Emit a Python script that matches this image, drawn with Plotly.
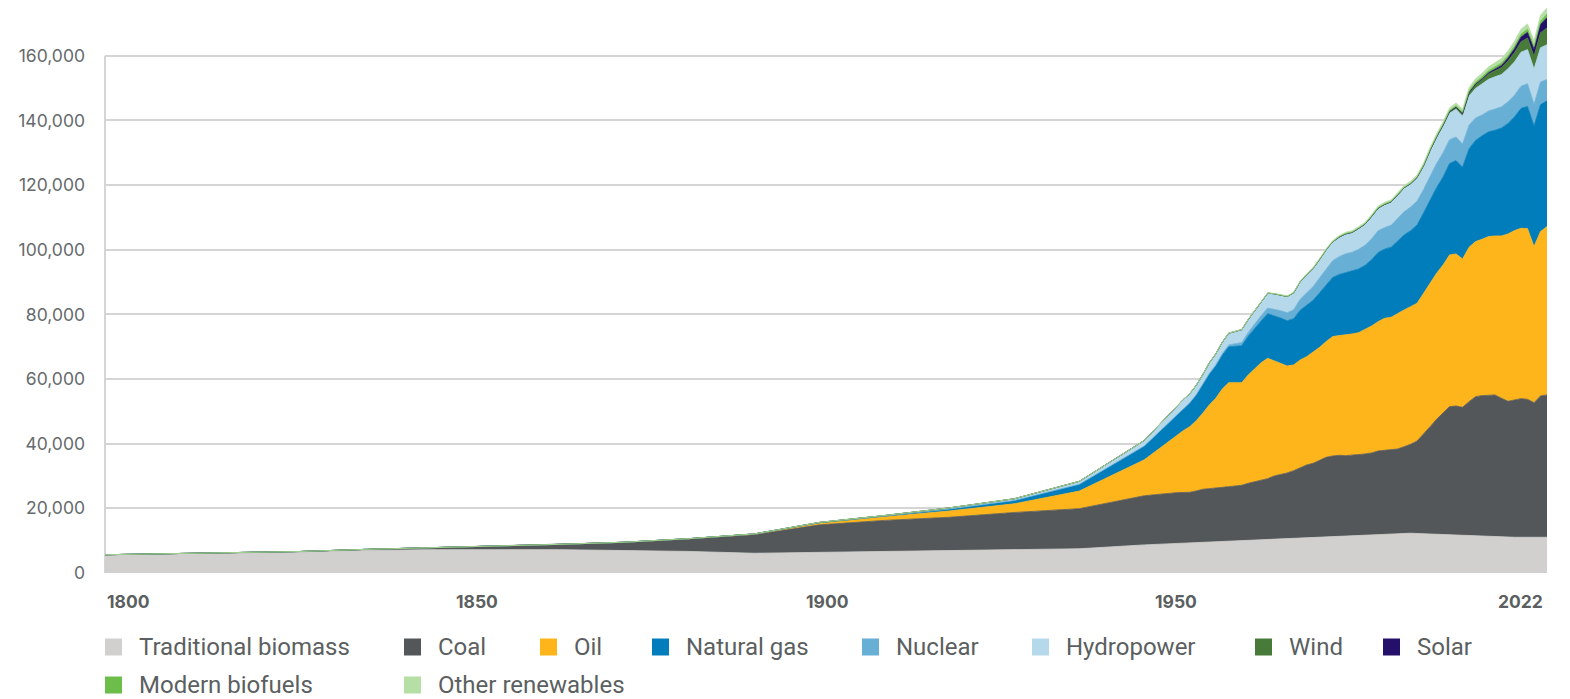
import plotly.graph_objects as go

# ---------------- DATA (TWh) ----------------
hist_years = [1800, 1810, 1820, 1830, 1840, 1850, 1860, 1870, 1880, 1890,
              1900, 1910, 1920, 1930, 1940, 1950, 1960]
modern_years = list(range(1965, 2023))
years = hist_years + modern_years

# Traditional biomass is only reported at sparse years
biomass_years = [1800, 1810, 1820, 1830, 1840, 1850, 1860, 1870, 1880, 1890,
                 1900, 1910, 1920, 1930, 1940, 1950, 1960, 1970, 1980, 1990,
                 2000, 2015, 2022]
biomass = [5556, 5833, 6111, 6389, 6944, 7222, 7222, 7222, 6944, 6667,
           6111, 6389, 6667, 6944, 7222, 7500, 8700, 9600, 10500, 11400,
           12400, 11050, 11050]

coal = [97, 128, 153, 264, 356, 569, 1061, 1642, 2542, 3856,
        5728, 8500, 9600, 10300, 11500, 12400, 15200,
        15710, 15720, 15630, 15960, 16390, 16500, 16510, 16720, 16850, 17070,
        17080, 17610, 18030, 18460, 18780, 19520, 19840, 20270, 20900, 21740,
        22470, 22900, 23630, 24570, 24890, 25010, 24810, 24810, 24910, 25020,
        25230, 25750, 25860, 25860, 26070, 26690, 27500, 28620, 31090, 33240,
        35600, 37540, 39700, 39990, 39670, 41510, 43150, 43550, 43840, 43930,
        42990, 42060, 42480, 42890, 42680, 41650, 43720, 44020]

oil = [0, 0, 0, 0, 0, 0, 0, 6, 33, 86,
       181, 511, 1097, 1944, 2700, 5444, 11100,
       17840, 19070, 20310, 21750, 23500, 25880, 27840, 30400, 32170, 31770,
       31760, 33510, 35060, 36300, 37230, 35670, 34440, 33100, 32690, 33300,
       33510, 34330, 35060, 35790, 36930, 37030, 37330, 37540, 37750, 38570,
       39290, 40010, 40830, 41040, 41970, 42280, 42590, 42590, 43300, 44340,
       45160, 45900, 46920, 47030, 45890, 47750, 47960, 48370, 49000, 49200,
       50230, 51780, 52390, 52700, 52810, 48270, 50840, 52090]

gas = [0, 0, 0, 0, 0, 0, 0, 0, 6, 33,
       64, 161, 233, 603, 1000, 2092, 4300,
       6300, 6800, 7300, 7900, 8700, 9500, 10000, 10500, 11100, 11300,
       11400, 12000, 12400, 12900, 13800, 13900, 14000, 14000, 14300, 15400,
       15900, 16100, 16900, 17600, 18300, 18900, 19300, 19400, 19700, 19800,
       20500, 21400, 21400, 21700, 22300, 23200, 23500, 24200, 24900, 25800,
       26500, 27200, 28300, 28900, 28400, 30500, 31300, 32000, 32400, 32700,
       33400, 34200, 35200, 37100, 37800, 37300, 39300, 38900]

nuclear = [0] * 17 + [
    69, 89, 108, 139, 169, 222, 308, 425, 564, 725,
    1011, 1156, 1431, 1661, 1744, 1983, 2272, 2450, 2778, 3389,
    3972, 4250, 4611, 4972, 5167, 5528, 5806, 5861, 6056, 6222,
    6472, 6694, 6667, 6778, 7028, 7167, 7320, 7418, 7213, 7473,
    7486, 7527, 7353, 7261, 7143, 7289, 6937, 6432, 6451, 6546,
    6590, 6658, 6701, 6843, 7035, 6750, 6965, 6634]

hydro = [0, 0, 0, 0, 0, 0, 0, 0, 0, 0,
         17, 95, 183, 356, 550, 925, 1700,
         2564, 2736, 2806, 2917, 3083, 3278, 3417, 3556, 3639, 3917,
         3972, 4000, 4111, 4417, 4611, 4806, 4889, 5056, 5250, 5444,
         5528, 5639, 5694, 5861, 5861, 6000, 6139, 6139, 6472, 6528,
         6889, 7000, 7139, 7194, 7222, 7361, 7126, 7196, 7186, 7609,
         7892, 8144, 8209, 8617, 8598, 9026, 9162, 9531, 9793, 10000,
         9949, 10256, 10305, 10532, 10553, 10875, 10622, 10718]

wind = [0] * 17 + [0] * 25 + [
    10, 11, 13, 16, 20, 23, 26, 33, 44, 58,
    86, 105, 143, 172, 231, 281, 358, 455, 585, 733,
    900, 1144, 1362, 1648, 1820, 2131, 2444, 2893, 3207, 3568,
    3975, 4602, 5198]

solar = [0] * 17 + [0] * 35 + [
    3, 4, 5, 7, 10, 12, 16, 20, 32, 53,
    89, 170, 260, 360, 510, 667, 842, 1142, 1465, 1759,
    2125, 2562, 3218]

biofuels = [0] * 17 + [0] * 25 + [
    116, 110, 105, 110, 115, 120, 125, 130, 125, 120,
    120, 125, 145, 170, 190, 220, 280, 360, 470, 530,
    600, 610, 620, 680, 740, 760, 780, 820, 900, 980,
    930, 1030, 1100]

other = [0] * 17 + [
    42, 45, 48, 51, 56, 61, 64, 68, 72, 77,
    83, 92, 101, 111, 125, 139, 155, 175, 200, 225,
    250, 275, 300, 330, 360, 389, 405, 420, 435, 452,
    472, 485, 500, 515, 530, 556, 575, 600, 630, 665,
    703, 745, 790, 840, 900, 974, 1040, 1110, 1180, 1270,
    1359, 1420, 1480, 1540, 1608, 1700, 1841, 1881]

names = ["Traditional biomass", "Coal", "Oil", "Natural gas", "Nuclear",
         "Hydropower", "Wind", "Solar", "Modern biofuels", "Other renewables"]
colors = ["#d1d0ce", "#53575a", "#fdb51b", "#007dba", "#68afd6",
          "#b5d8ea", "#487a3a", "#24106b", "#6cbd4a", "#b5dfa5"]
x_labels = ["1800", "1850", "1900", "1950", "2022"]

# ---------------- FIGURE ----------------
W, H = 1570, 699
L, R, T, B = 105, 23, 0, 126
PW, PH = W - L - R, H - T - B
Y_MAX = 177260
GRID_TOP = 160000
GRID = "#d5d5d5"
TXT = "#5b5f61"
FONT = "Roboto"
TICKFONT = "Inter"

series_x = [biomass_years] + [years] * 9
series_y = [biomass, coal, oil, gas, nuclear, hydro, wind, solar, biofuels, other]

fig = go.Figure()
for nm, xs, ys, col in zip(names, series_x, series_y, colors):
    fig.add_trace(go.Scatter(
        x=xs, y=ys, name=nm, mode="lines", stackgroup="energy",
        stackgaps="interpolate",
        line=dict(width=0.8, color=col), fillcolor=col,
        showlegend=False, hoverinfo="skip"))


def px_x(px):
    return (px - L) / PW


def px_y(py):
    return (H - B - py) / PH


shapes = [dict(type="line", xref="paper", yref="paper",
               x0=0, x1=0, y0=0, y1=GRID_TOP / Y_MAX,
               line=dict(color=GRID, width=2), layer="below")]
annotations = []

# x labels, spread evenly across the axis as in the original design
label_pos = [(105, "left"), (477, "center"), (827, "center"), (1176, "center"), (1545, "right")]
for txt, (px, anc) in zip(x_labels, label_pos):
    annotations.append(dict(text="<b>%s</b>" % txt, xref="paper", yref="paper",
                            x=px_x(px), y=px_y(601), xanchor=anc, yanchor="middle",
                            showarrow=False, font=dict(family=TICKFONT, size=17.5, color=TXT)))

# custom legend with square swatches
legend_pos = [(105, 647), (404, 647), (540, 647), (652, 647), (862, 647),
              (1032, 647), (1255, 647), (1383, 647), (105, 685), (404, 685)]
for nm, col, (sx, sy) in zip(names, colors, legend_pos):
    shapes.append(dict(type="rect", xref="paper", yref="paper",
                       x0=px_x(sx), x1=px_x(sx + 17),
                       y0=px_y(sy + 8.5), y1=px_y(sy - 8.5),
                       fillcolor=col, line=dict(width=0)))
    annotations.append(dict(text=nm, xref="paper", yref="paper",
                            x=px_x(sx + 33), y=px_y(sy), xanchor="left", yanchor="middle",
                            borderpad=0,
                            showarrow=False, font=dict(family=FONT, size=24, color=TXT)))

fig.update_layout(
    width=W, height=H,
    margin=dict(l=L, r=R, t=T, b=B, pad=0),
    paper_bgcolor="white", plot_bgcolor="white",
    font=dict(family=FONT, color=TXT),
    xaxis=dict(range=[1800, 2022], showgrid=False, zeroline=False,
               showline=False, showticklabels=False, ticks=""),
    yaxis=dict(range=[0, Y_MAX], dtick=20000, tickformat=",",
               showgrid=True, gridcolor=GRID, gridwidth=2,
               zeroline=False, showline=False, ticks="",
               ticklabelstandoff=19,
               tickfont=dict(family=TICKFONT, size=17.5, color="#666a6c")),
    shapes=shapes, annotations=annotations,
)

fig.write_html("out.html", config={"displayModeBar": False},
               post_script="document.body.style.margin='0px';document.body.style.overflow='hidden';")
